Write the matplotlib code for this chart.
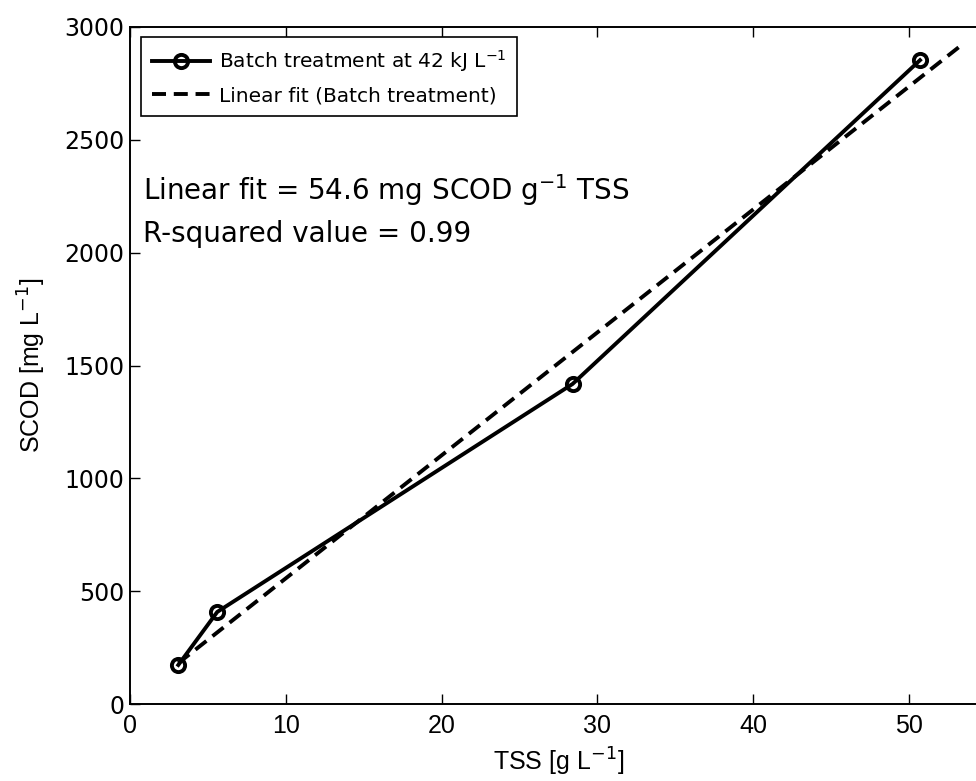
import matplotlib
matplotlib.use("Agg")
import matplotlib.pyplot as plt
import numpy as np

# values
tss = [3.1, 5.6, 28.4, 50.7]
scod = [173, 408, 1418, 2853]
fit_x = [3.1, 53.2]
fit_y = [181, 2911]

xticks = [0, 10, 20, 30, 40, 50]
yticks = [0, 500, 1000, 1500, 2000, 2500, 3000]

narrow = ["Liberation Sans Narrow", "Liberation Sans", "DejaVu Sans"]
wide = ["DejaVu Sans"]

fig = plt.figure(figsize=(9.76, 7.81), dpi=100)
ax = fig.add_axes([130 / 976, 77 / 781, 857 / 976, 677 / 781])

ax.plot(tss, scod, color="black", lw=2.8, marker="o", ms=9.5, mfc="none",
        mew=2.8, label=r"Batch treatment at 42 kJ L$^{-1}$")
ax.plot(fit_x, fit_y, color="black", lw=2.8, ls=(0, (3.6, 2.0)),
        label="Linear fit (Batch treatment)")

ax.set_xlim(0, 55)
ax.set_ylim(0, 3000)
ax.set_xticks(xticks)
ax.set_yticks(yticks)
ax.tick_params(direction="in", length=7, width=1, top=True, right=True)
ax.tick_params(axis="x", pad=7)
ax.tick_params(axis="y", pad=4)
for lab in ax.get_xticklabels():
    lab.set_family(narrow)
    lab.set_fontsize(18)
for lab in ax.get_yticklabels():
    lab.set_family(wide)
    lab.set_fontsize(17)
for sp in ax.spines.values():
    sp.set_linewidth(1.4)

ax.set_xlabel(r"TSS [g L$^{-1}$]", family=narrow, fontsize=18, labelpad=6)
ax.set_ylabel(r"SCOD [mg L$^{-1}$]", family=narrow, fontsize=18, labelpad=12)

ax.text(0.83, 2233, r"Linear fit = 54.6 mg SCOD g$^{-1}$ TSS", fontsize=20,
        family=wide, va="baseline")
ax.text(0.83, 2047, "R-squared value = 0.99", fontsize=20, family=wide,
        va="baseline")

leg = ax.legend(loc="upper left", bbox_to_anchor=(0.0128, 0.985),
                borderaxespad=0, prop={"family": wide, "size": 14.5},
                handlelength=2.9, handletextpad=0.4, labelspacing=0.6,
                fancybox=False, framealpha=1, edgecolor="black",
                borderpad=0.55)
leg.get_frame().set_linewidth(1.2)

fig.savefig("out.png", dpi=100)
